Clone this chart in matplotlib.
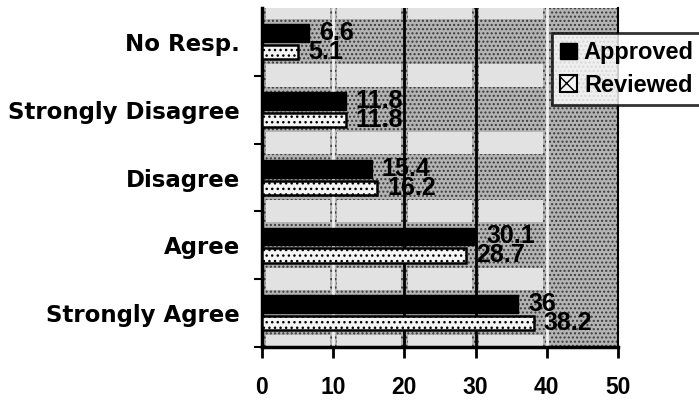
import matplotlib
matplotlib.use("Agg")
import matplotlib.pyplot as plt
import numpy as np
from matplotlib.patches import Patch, Rectangle

categories = ["Strongly Agree", "Agree", "Disagree", "Strongly Disagree", "No Resp."]
approved = [36, 30.1, 15.4, 11.8, 6.6]
reviewed = [38.2, 28.7, 16.2, 11.8, 5.1]
approved_labels = ["36", "30.1", "15.4", "11.8", "6.6"]
reviewed_labels = ["38.2", "28.7", "16.2", "11.8", "5.1"]
xticks = [0, 10, 20, 30, 40, 50]

plt.rcParams["hatch.linewidth"] = 1.0

fig = plt.figure(figsize=(6.99, 4.01), dpi=100)
ax = fig.add_axes([262/699, 54/401, 356/699, 339/401])
ax.set_xlim(0, 50)
ax.set_ylim(-0.5, 4.5)

y = np.arange(len(categories))

# stippled gray background
ax.set_facecolor("#a4a4a4")
ax.add_patch(Rectangle((0, -0.5), 50, 5, facecolor="#b4b4b4", edgecolor="#3a3a3a",
                       hatch="....", lw=0, zorder=0.2))

# lighter gaps between groups (blocks between gridlines)
for i in list(y) + [5]:
    for x0 in [0, 10, 20, 30]:
        ax.add_patch(Rectangle((x0 + 0.5, i - 0.66), 9.0, 0.33,
                               facecolor="#e2e2e2", edgecolor="none", zorder=0.5))

# gridlines
grid_cols = {10: "#f0f0f0", 20: "black", 30: "black", 40: "#f0f0f0", 50: "black"}
for xv in xticks[1:]:
    ax.axvline(xv, color=grid_cols[xv], lw=2.0, zorder=1)

ax.barh(y + 0.13, approved, height=0.26, color="black", edgecolor="black",
        lw=1, zorder=3, label="Approved")
ax.barh(y - 0.15, reviewed, height=0.21, color="#f4f4f4", edgecolor="black",
        lw=1.8, hatch="...", zorder=3, label="Reviewed")

for i in y:
    ax.annotate(approved_labels[i], (approved[i], i + 0.13), xytext=(7, 0),
                textcoords="offset points", va="center", ha="left",
                fontsize=18, fontweight="bold", family="Liberation Sans", zorder=5)
    ax.annotate(reviewed_labels[i], (reviewed[i], i - 0.15), xytext=(7, 0),
                textcoords="offset points", va="center", ha="left",
                fontsize=18, fontweight="bold", family="Liberation Sans", zorder=5)

ax.set_yticks(y)
ax.set_yticklabels(categories, fontsize=16.5, fontweight="bold")
ax.set_yticks(np.arange(-0.5, 4.0, 1.0), minor=True)
ax.tick_params(axis="y", which="major", length=0, pad=16)
ax.tick_params(axis="y", which="minor", length=6, width=1.5, direction="out")

ax.set_xticks(xticks)
ax.set_xticklabels([str(v) for v in xticks], fontsize=16.5, fontweight="bold",
                   family="Liberation Sans")
ax.tick_params(axis="x", which="major", length=8, width=2, direction="out", pad=13)

for s in ["left", "bottom"]:
    ax.spines[s].set_linewidth(2.5)
    ax.spines[s].set_color("black")
ax.spines["top"].set_visible(False)
ax.spines["right"].set_linewidth(1.5)

handles = [Patch(facecolor="black", edgecolor="black", label="Approved"),
           Patch(facecolor="#f4f4f4", edgecolor="black", hatch="xx", lw=1.5, label="Reviewed")]
leg = fig.legend(handles=handles, loc="upper left", bbox_to_anchor=(552/699, 1 - 33/401),
                 prop={"weight": "bold", "size": 17, "family": "Liberation Sans"},
                 frameon=True, fancybox=False,
                 handlelength=0.7, handleheight=0.7, handletextpad=0.3, borderpad=0.35,
                 labelspacing=0.4, borderaxespad=0)
leg.get_frame().set_edgecolor("black")
leg.get_frame().set_linewidth(2)
leg.get_frame().set_facecolor("white")
leg.set_zorder(10)

fig.savefig("out.png", dpi=100)
